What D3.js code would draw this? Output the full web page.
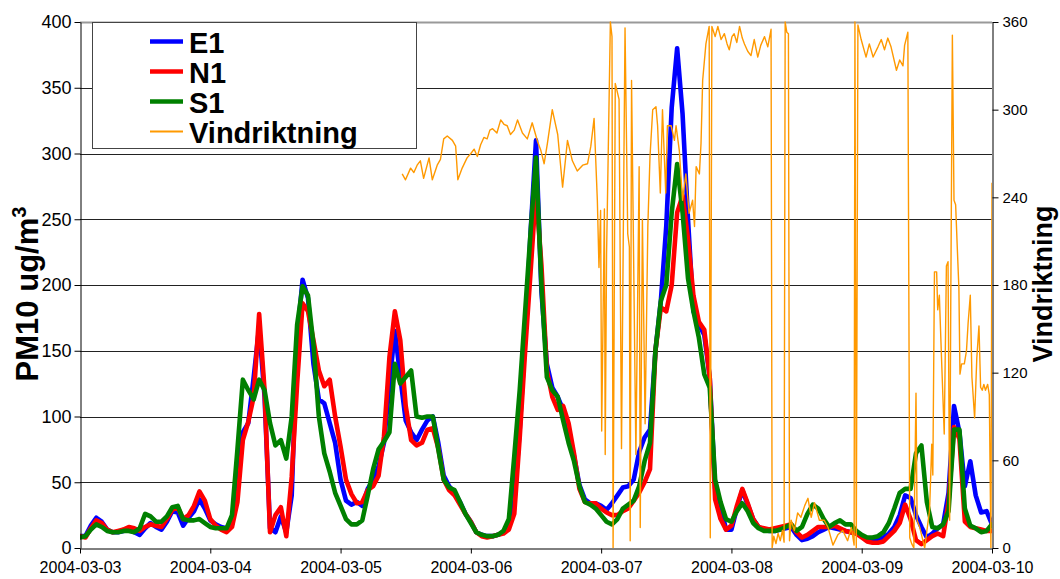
<!DOCTYPE html>
<html><head><meta charset="utf-8">
<script src="https://cdn.jsdelivr.net/npm/d3@7"></script>
<style>
body{margin:0;background:#fff}
svg{display:block}
text{font-family:Arial,"Liberation Sans",sans-serif;fill:#000}
</style>
</head><body>
<svg id="c" width="1060" height="579"></svg>
<script>
// ---------- data ----------
const startDay = [2004, 2, 3];            // 2004-03-03, hourly samples
const dayTicks = ["2004-03-03","2004-03-04","2004-03-05","2004-03-06","2004-03-07","2004-03-08","2004-03-09","2004-03-10"];
const leftTicks = [0,50,100,150,200,250,300,350,400];
const rightTicks = [0,60,120,180,240,300,360];
const seriesNames = ["E1","N1","S1","Vindriktning"];

const E1 = [
 9,9,17,23,20,14,12,12,13,14,12,10,15,19,16,14,20,28,27,17,23,28,37,30,
 21,18,16,15,18,45,88,95,130,168,115,15,12,24,12,40,160,204,190,140,113,110,95,80,
 52,36,33,35,32,45,52,62,80,125,165,130,97,88,82,90,97,100,80,55,47,42,35,26,
 20,12,10,9,9,10,12,18,35,90,160,240,310,195,140,122,115,105,90,70,48,37,34,34,
 32,29,34,40,46,47,52,73,84,90,150,188,245,335,380,330,250,180,170,162,130,45,32,14,
 14,30,44,33,22,16,14,13,13,14,15,16,10,6,7,9,12,14,16,15,14,13,12,11,
 9,7,6,6,8,11,16,25,40,38,25,16,8,11,15,18,42,108,88,47,66,40,27,28,
 18];
const N1 = [
 9,8,15,21,19,14,12,13,14,16,15,13,16,18,17,16,22,29,31,22,25,32,43,36,
 22,17,14,12,16,35,82,96,115,178,120,12,25,31,9,54,125,186,180,158,135,123,128,100,
 77,52,41,34,35,44,47,55,85,145,180,158,108,82,78,80,90,91,76,52,44,40,33,26,
 20,12,9,8,9,10,11,14,26,84,150,210,272,215,135,115,105,108,95,72,45,35,34,34,
 30,27,25,25,28,30,36,42,50,60,150,183,180,200,255,268,235,192,172,166,130,37,22,14,
 17,32,45,34,22,16,15,14,15,16,17,18,12,8,10,13,16,16,16,17,15,13,12,11,
 8,5,4,4,5,9,13,19,33,22,6,3,6,9,11,9,35,92,83,20,16,15,14,13,
 13];
const S1 = [
 8,9,14,18,16,13,12,12,13,13,12,15,26,24,20,20,24,31,32,22,21,21,22,19,
 16,15,15,15,25,75,128,120,113,128,120,95,78,82,68,100,170,199,192,155,100,72,58,42,
 32,22,18,18,21,40,60,75,81,88,140,125,130,135,100,99,100,100,75,52,46,44,35,26,
 19,12,10,9,9,10,13,22,70,120,180,240,297,200,130,120,115,97,80,66,47,35,33,30,
 25,20,18,22,30,33,36,47,66,80,150,188,200,255,292,255,205,180,160,132,122,52,35,22,
 20,28,34,28,19,15,13,13,13,14,16,18,13,16,26,33,30,22,16,19,21,18,18,13,
 10,8,8,9,12,19,30,42,45,45,72,78,35,16,15,18,28,90,90,30,17,15,12,13,
 18];

// wind direction: hours after 2004-03-03 00:00 and degrees
const windHours = [
 59.35,59.96,60.9,61.5,62.1,62.7,63.3,64.3,64.9,65.8,66.4,67.0,67.65,68.6,69.2,69.6,70.4,71.3,72.0,72.6,73.2,73.8,74.4,75.0,75.5,76.0,76.8,77.5,78.1,78.7,79.3,80.0,80.6,81.5,82.4,83.3,84.3,84.9,85.5,86.1,87.0,88.0,88.9,89.8,90.7,91.6,92.6,93.5,94.1,94.7,
 95.3,95.6,95.9,96.1,96.6,96.75,97.0,97.7,98.0,98.2,98.6,99.3,99.75,100.4,100.9,101.2,101.35,101.6,101.9,102.4,103.0,103.2,103.6,104.1,104.6,
 105.0,105.5,106.1,106.4,106.9,107.3,107.9,108.2,108.9,109.5,109.8,110.4,111.0,111.6,112.2,112.85,113.2,113.5,114.1,114.4,114.7,115.3,115.9,116.1,116.4,
 117.0,117.5,118.1,118.7,119.2,119.6,120.1,120.5,121.0,121.5,122.0,122.4,123.0,123.6,124.2,124.85,125.4,126.1,126.7,127.3,
 127.5,127.8,128.2,128.6,129.0,129.4,129.7,129.9,130.2,130.5,130.7,131.0,131.6,132.2,132.8,133.5,134.1,134.7,135.3,136.2,137.1,137.8,138.7,139.6,140.5,141.4,142.1,142.6,
 142.75,143.0,143.3,143.9,144.8,145.4,146.1,147.0,147.6,148.2,148.8,149.4,150.4,151.0,151.6,151.9,152.5,
 152.85,153.2,153.6,154.0,154.2,154.7,155.6,156.5,156.9,157.1,157.4,157.8,158.0,158.3,158.7,159.2,159.6,159.9,160.2,160.4,160.7,161.0,161.3,161.6,161.9,162.1,162.4,162.9,163.3,163.6,164.0,164.3,164.8,165.2,165.6,165.9,166.2,166.5,166.8,167.2,167.5,167.8,168.0];
const windDir = [
 256,252,260,257,262,265,253,267,252,262,266,280,282,279,275,252,260,267,270,273,268,276,281,280,286,287,284,293,290,289,283,286,293,284,280,291,278,272,263,277,300,283,247,279,265,258,262,263,275,294,
 238,192,231,80,232,64,201,360,350,0,318,307,68,356,215,206,5,320,225,64,261,14,225,85,220,
 268,300,302,289,243,300,243,289,289,279,289,272,238,256,229,238,220,261,256,277,320,345,357,7,357,
 350,357,348,352,345,341,350,352,346,357,349,345,340,337,348,336,344,350,343,355,
 0,8,3,10,5,12,4,360,353,352,5,19,12,24,21,29,34,21,31,19,19,14,2,9,12,5,14,2,
 360,0,358,348,336,345,336,343,348,341,349,343,327,334,330,344,353,
 7,3,0,106,19,14,0,26,71,50,189,189,163,173,130,78,193,196,19,165,351,238,235,206,178,119,126,126,135,154,173,117,89,130,152,110,108,112,108,112,105,0,250];

// ---------- layout ----------
const L = 80, R = 992, T = 22, B = 548;
const svg = d3.select("#c");
const t0 = new Date(startDay[0], startDay[1], startDay[2]);
const tAt = h => new Date(t0.getTime() + h * 3600e3);
const days = dayTicks.map(s => d3.timeParse("%Y-%m-%d")(s));

const x = d3.scaleTime().domain([days[0], days[days.length - 1]]).range([L, R]);
const yL = d3.scaleLinear().domain([0, 400]).range([B, T]);
const yR = d3.scaleLinear().domain([0, 360]).range([B, T]);

// gridlines
svg.append("g").selectAll("line").data(leftTicks.filter(v => v > 0 && v < 400)).join("line")
  .attr("x1", L).attr("x2", R)
  .attr("y1", d => Math.round(yL(d)) + 0.5).attr("y2", d => Math.round(yL(d)) + 0.5)
  .attr("stroke", "#222").attr("stroke-width", 1);
svg.append("line").attr("x1", L).attr("x2", R).attr("y1", T + 0.5).attr("y2", T + 0.5)
  .attr("stroke", "#999").attr("stroke-width", 2);

// clip
svg.append("clipPath").attr("id", "plot").append("rect")
  .attr("x", L).attr("y", T - 1).attr("width", R - L).attr("height", B - T + 1);

// series
const pm = [
  {name: "E1", values: E1, color: "#0000ff"},
  {name: "N1", values: N1, color: "#ff0000"},
  {name: "S1", values: S1, color: "#008000"}
];
const pmLine = d3.line().x((d, i) => x(tAt(i))).y(d => yL(d));
const gs = svg.append("g").attr("clip-path", "url(#plot)");
pm.forEach(s => {
  gs.append("path").datum(s.values).attr("d", pmLine)
    .attr("fill", "none").attr("stroke", s.color).attr("stroke-width", 4.6)
    .attr("stroke-linejoin", "round").attr("stroke-linecap", "round");
});
const windLine = d3.line().x((d, i) => x(tAt(windHours[i]))).y(d => yR(d));
gs.append("path").datum(windDir).attr("d", windLine)
  .attr("fill", "none").attr("stroke", "#ff9900").attr("stroke-width", 1.4)
  .attr("stroke-linejoin", "round");

// axes
const axL = svg.append("g").attr("transform", `translate(${L + 0.5},0)`)
  .call(d3.axisLeft(yL).tickValues(leftTicks).tickSize(6).tickSizeOuter(0).tickPadding(3));
axL.selectAll("text").attr("font-size", 18);
const axR = svg.append("g").attr("transform", `translate(${R + 0.5},0)`)
  .call(d3.axisRight(yR).tickValues(rightTicks).tickSize(6).tickSizeOuter(0).tickPadding(4));
axR.selectAll("text").attr("font-size", 15);
const axB = svg.append("g").attr("transform", `translate(0,${B + 0.5})`)
  .call(d3.axisBottom(x).tickValues(days).tickFormat(d3.timeFormat("%Y-%m-%d")).tickSize(5).tickSizeOuter(0).tickPadding(8));
axB.selectAll("text").attr("font-size", 16);
[axL, axR, axB].forEach(a => {
  a.selectAll("path,line").attr("stroke", "#000");
  a.selectAll("text").attr("font-family", 'Arial,"Liberation Sans",sans-serif').attr("fill", "#000");
});

// axis titles
const tl = svg.append("text").attr("transform", "translate(38,294) rotate(-90)")
  .attr("text-anchor", "middle").attr("font-size", 31).attr("font-weight", "bold");
tl.append("tspan").text("PM10 ug/m");
tl.append("tspan").attr("dy", -12).attr("font-size", 20).text("3");
svg.append("text").attr("transform", "translate(1052,284) rotate(-90)")
  .attr("text-anchor", "middle").attr("font-size", 27).attr("font-weight", "bold").text(seriesNames[3]);

// legend
const lg = svg.append("g");
lg.append("rect").attr("x", 92.5).attr("y", 22.5).attr("width", 324).attr("height", 126)
  .attr("fill", "#fff").attr("stroke", "#444").attr("stroke-width", 1);
const legendItems = [
  {name: seriesNames[0], color: "#0000ff", w: 4.5},
  {name: seriesNames[1], color: "#ff0000", w: 4.5},
  {name: seriesNames[2], color: "#008000", w: 4.5},
  {name: seriesNames[3], color: "#ff9900", w: 2}
];
legendItems.forEach((d, i) => {
  const cy = 41.5 + i * 30;
  lg.append("line").attr("x1", 150).attr("x2", 183).attr("y1", cy).attr("y2", cy)
    .attr("stroke", d.color).attr("stroke-width", d.w);
  lg.append("text").attr("x", 189).attr("y", cy + 11).attr("font-size", 29)
    .attr("font-weight", "bold").text(d.name);
});
</script>
</body></html>
